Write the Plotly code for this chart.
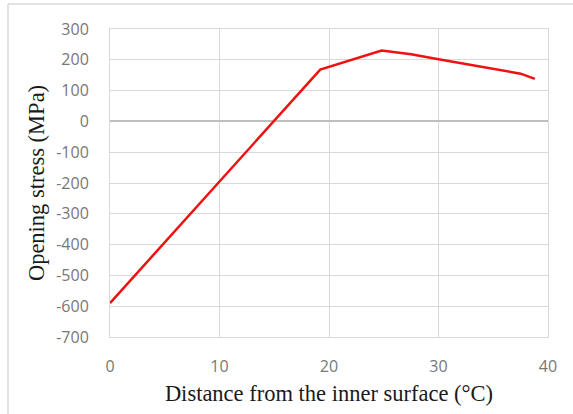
import plotly.graph_objects as go

distance = [0, 7.5, 19.2, 24.8, 27.5, 30, 33.5, 37.5, 38.8]
stress = [-590, -295, 168, 230, 218, 202, 180, 155, 138]

x_ticks = [0, 10, 20, 30, 40]
y_ticks = list(range(-700, 301, 100))
y_tick_text = [str(v) for v in y_ticks]

W, H = 573, 414
ml, mr, mt, mb = 110, 25, 29, 77
pw, ph = W - ml - mr, H - mt - mb

fig = go.Figure()
fig.add_trace(go.Scatter(x=distance, y=stress, mode="lines",
                         line=dict(color="#ee1111", width=2.5), showlegend=False))

def px_to_paper_x(px):
    return (px - ml) / pw

def px_to_paper_y(py):
    return 1 - (py - mt) / ph

frame = dict(color="#d9d9d9", width=1.5)
fig.add_shape(type="line", xref="paper", yref="paper",
              x0=px_to_paper_x(8), x1=px_to_paper_x(573),
              y0=px_to_paper_y(4), y1=px_to_paper_y(4), line=frame)
fig.add_shape(type="line", xref="paper", yref="paper",
              x0=px_to_paper_x(8), x1=px_to_paper_x(8),
              y0=px_to_paper_y(4), y1=px_to_paper_y(414), line=frame)

tick_font = dict(family="Open Sans", size=16, color="#777777")
title_font = dict(family="Liberation Serif", size=22.5, color="#1a1a1a")

fig.update_layout(
    width=W, height=H,
    margin=dict(l=ml, r=mr, t=mt, b=mb),
    paper_bgcolor="white", plot_bgcolor="white",
    xaxis=dict(range=[0, 40], tickvals=x_ticks, showgrid=True, gridcolor="#d9d9d9",
               gridwidth=1, zeroline=False, showline=True, linecolor="#d9d9d9",
               mirror=True, ticks="", ticklen=0, ticklabelstandoff=15,
               tickfont=tick_font,
               title=dict(text="Distance from the inner surface (°C)",
                          font=title_font, standoff=9)),
    yaxis=dict(range=[-700, 300], tickvals=y_ticks, ticktext=y_tick_text,
               showgrid=True, gridcolor="#d9d9d9",
               gridwidth=1, zeroline=True, zerolinecolor="#bfbfbf", zerolinewidth=1.5,
               showline=True, linecolor="#d9d9d9", mirror=True, ticks="",
               ticklabelstandoff=17, tickfont=tick_font,
               title=dict(text="Opening stress (MPa)",
                          font=title_font, standoff=5)),
)

fig.write_html("out.html")
